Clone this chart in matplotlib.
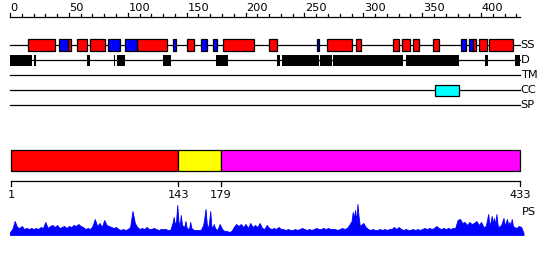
import matplotlib
matplotlib.use("Agg")
import matplotlib.pyplot as plt
from matplotlib.patches import Rectangle

# ---------------- data ----------------
seq_len = 433
track_names = ["SS", "D", "TM", "CC", "SP"]

helix_start = [15, 49, 57, 68, 108, 150, 181, 220, 269, 294, 325, 333, 342, 359, 393, 398, 407]
helix_end   = [38, 52, 65, 81, 133, 156, 207, 227, 290, 298, 330, 340, 347, 364, 396, 405, 427]

strand_start = [42, 83, 98, 138, 162, 172, 261, 383, 390]
strand_end   = [49, 93, 108, 141, 167, 176, 262, 387, 393]

disorder_start = [0, 20, 65, 88, 91, 130, 175, 227, 231, 263, 274, 336, 403, 429]
disorder_end   = [19, 22, 68, 89, 98, 137, 185, 229, 262, 273, 334, 381, 406, 433]

cc_start = [361]
cc_end = [381]

domain_start = [1, 143, 179]
domain_end = [143, 179, 433]
domain_colors = ["#FF0000", "#FFFF00", "#FF00FF"]
boundary_ticks = [1, 143, 179, 433]

ruler_minor = list(range(0, 431, 10))
ruler_major = [0, 50, 100, 150, 200, 250, 300, 350, 400]

ps_pos = [0, 2, 4, 6, 8, 10, 12, 14, 16, 18, 20, 22, 24, 26, 28, 30, 32, 34, 36, 38,
          40, 42, 44, 46, 48, 50, 52, 54, 56, 58, 60, 62, 64, 66, 68, 70, 72, 74, 76, 78,
          80, 82, 84, 86, 88, 90, 92, 94, 96, 98, 100, 102, 104, 106, 108, 110, 112, 114, 116, 118,
          120, 122, 124, 126, 128, 130, 132, 134, 136, 138, 139, 140, 141, 142, 143, 144, 145, 146, 148, 149,
          150, 152, 153, 154, 156, 158, 160, 162, 164, 165, 166, 167, 168, 169, 170, 171, 172, 173, 174, 176,
          178, 180, 182, 184, 186, 188, 190, 192, 194, 196, 198, 200, 202, 204, 206, 208, 210, 212, 214, 216,
          218, 220, 222, 224, 226, 228, 230, 232, 234, 236, 238, 240, 242, 244, 246, 248, 250, 252, 254, 256,
          258, 260, 262, 264, 266, 268, 270, 272, 274, 276, 278, 280, 282, 284, 286, 288, 290, 291, 292, 293,
          294, 295, 296, 297, 298, 300, 302, 304, 306, 308, 310, 312, 314, 316, 318, 320, 322, 324, 326, 328,
          330, 332, 334, 336, 338, 340, 342, 344, 346, 348, 350, 352, 354, 356, 358, 360, 362, 364, 366, 368,
          370, 372, 374, 376, 378, 380, 382, 384, 386, 388, 390, 392, 394, 396, 398, 400, 402, 404, 406, 407,
          408, 409, 410, 411, 412, 413, 414, 415, 417, 419, 420, 421, 422, 423, 424, 425, 426, 427, 428, 430,
          432, 434, 436]
ps_val = [3, 6, 14, 8, 7, 9, 6, 7, 6, 7, 6, 7, 6, 8, 7, 13, 7, 9, 10, 8,
          10, 7, 8, 9, 7, 9, 8, 10, 9, 11, 9, 8, 6, 7, 6, 9, 16, 9, 12, 8,
          15, 10, 9, 8, 7, 8, 6, 5, 6, 5, 6, 8, 24, 12, 8, 6, 7, 6, 8, 6,
          6, 7, 6, 5, 6, 6, 6, 5, 5, 12, 18, 10, 14, 30, 14, 8, 20, 10, 8, 14,
          7, 6, 13, 7, 5, 5, 5, 5, 10, 17, 26, 12, 6, 12, 24, 9, 7, 11, 7, 5,
          11, 6, 4, 4, 3, 4, 8, 11, 9, 11, 8, 11, 7, 12, 8, 10, 8, 12, 7, 6,
          10, 7, 6, 7, 6, 8, 6, 6, 5, 6, 5, 5, 6, 5, 6, 7, 6, 5, 6, 5,
          6, 7, 6, 6, 7, 6, 7, 6, 6, 6, 5, 6, 7, 6, 7, 10, 14, 23, 17, 25,
          14, 31, 18, 9, 10, 12, 8, 6, 5, 6, 5, 5, 6, 5, 6, 5, 6, 6, 8, 6,
          8, 6, 5, 6, 5, 5, 6, 5, 6, 5, 6, 7, 6, 7, 6, 7, 9, 7, 6, 7,
          6, 7, 6, 7, 7, 15, 16, 12, 13, 10, 13, 11, 12, 14, 10, 13, 8, 9, 21, 10,
          13, 19, 12, 17, 10, 21, 10, 8, 10, 17, 9, 13, 16, 9, 13, 10, 16, 9, 8, 7,
          9, 8, 2]

# ---------------- layout ----------------
W, H = 550, 260
px_per_res = 510 / 433
x0 = 10

fig = plt.figure(figsize=(W / 100, H / 100), dpi=100)
ax = fig.add_axes([0, 0, 1, 1])
ax.set_xlim(-x0 / px_per_res, (W - x0) / px_per_res)
ax.set_ylim(H, 0)
ax.axis("off")

fs = 8.2
lw = 0.9

# ruler
ruler_y = 17
ax.plot([0, seq_len], [ruler_y, ruler_y], color="black", lw=lw)
for t in ruler_minor:
    top = ruler_y - (4.5 if t in ruler_major else 3)
    ax.plot([t, t], [ruler_y, top], color="black", lw=lw)
for t in ruler_major:
    ax.text(t + 0.5, ruler_y - 4, str(t), ha="left", va="bottom", fontsize=fs)

# tracks
track_y = {"SS": 45, "D": 60, "TM": 75, "CC": 90, "SP": 105}
for name in track_names:
    y = track_y[name]
    ax.plot([0, seq_len], [y, y], color="black", lw=lw, zorder=1)
    ax.text(seq_len + 0.5, y, name, ha="left", va="center", fontsize=fs)

def boxes(starts, ends, y, h, color, ec="black", elw=0.9):
    for s, e in zip(starts, ends):
        ax.add_patch(Rectangle((s, y - h / 2), e - s, h, facecolor=color,
                               edgecolor=ec, lw=elw, zorder=3))

boxes(helix_start, helix_end, track_y["SS"], 12, "#FF0000")
boxes(strand_start, strand_end, track_y["SS"], 12, "#0000FF")
boxes(disorder_start, disorder_end, track_y["D"], 11, "black", ec="none", elw=0)
boxes(cc_start, cc_end, track_y["CC"], 11, "#00FFFF")

# domain bar
for s, e, c in zip(domain_start, domain_end, domain_colors):
    ax.add_patch(Rectangle((s, 150), e - s, 20.5, facecolor=c, edgecolor="black", lw=lw, zorder=3))

axis_y = 181
ax.plot([domain_start[0], domain_end[-1]], [axis_y, axis_y], color="black", lw=lw)
for t in boundary_ticks:
    ax.plot([t, t], [axis_y, axis_y + 4.5], color="black", lw=lw)
    ax.text(t, 195, str(t), ha="center", va="center", fontsize=fs)

# PS profile
base = 235
ax.fill_between(ps_pos, [base - v for v in ps_val], [base] * len(ps_val),
                color="#0000FF", lw=0.6, edgecolor="#0000FF")
ax.text(seq_len + 1.5, 212, "PS", ha="left", va="center", fontsize=fs)

fig.savefig("out.png", dpi=100, facecolor="white")
